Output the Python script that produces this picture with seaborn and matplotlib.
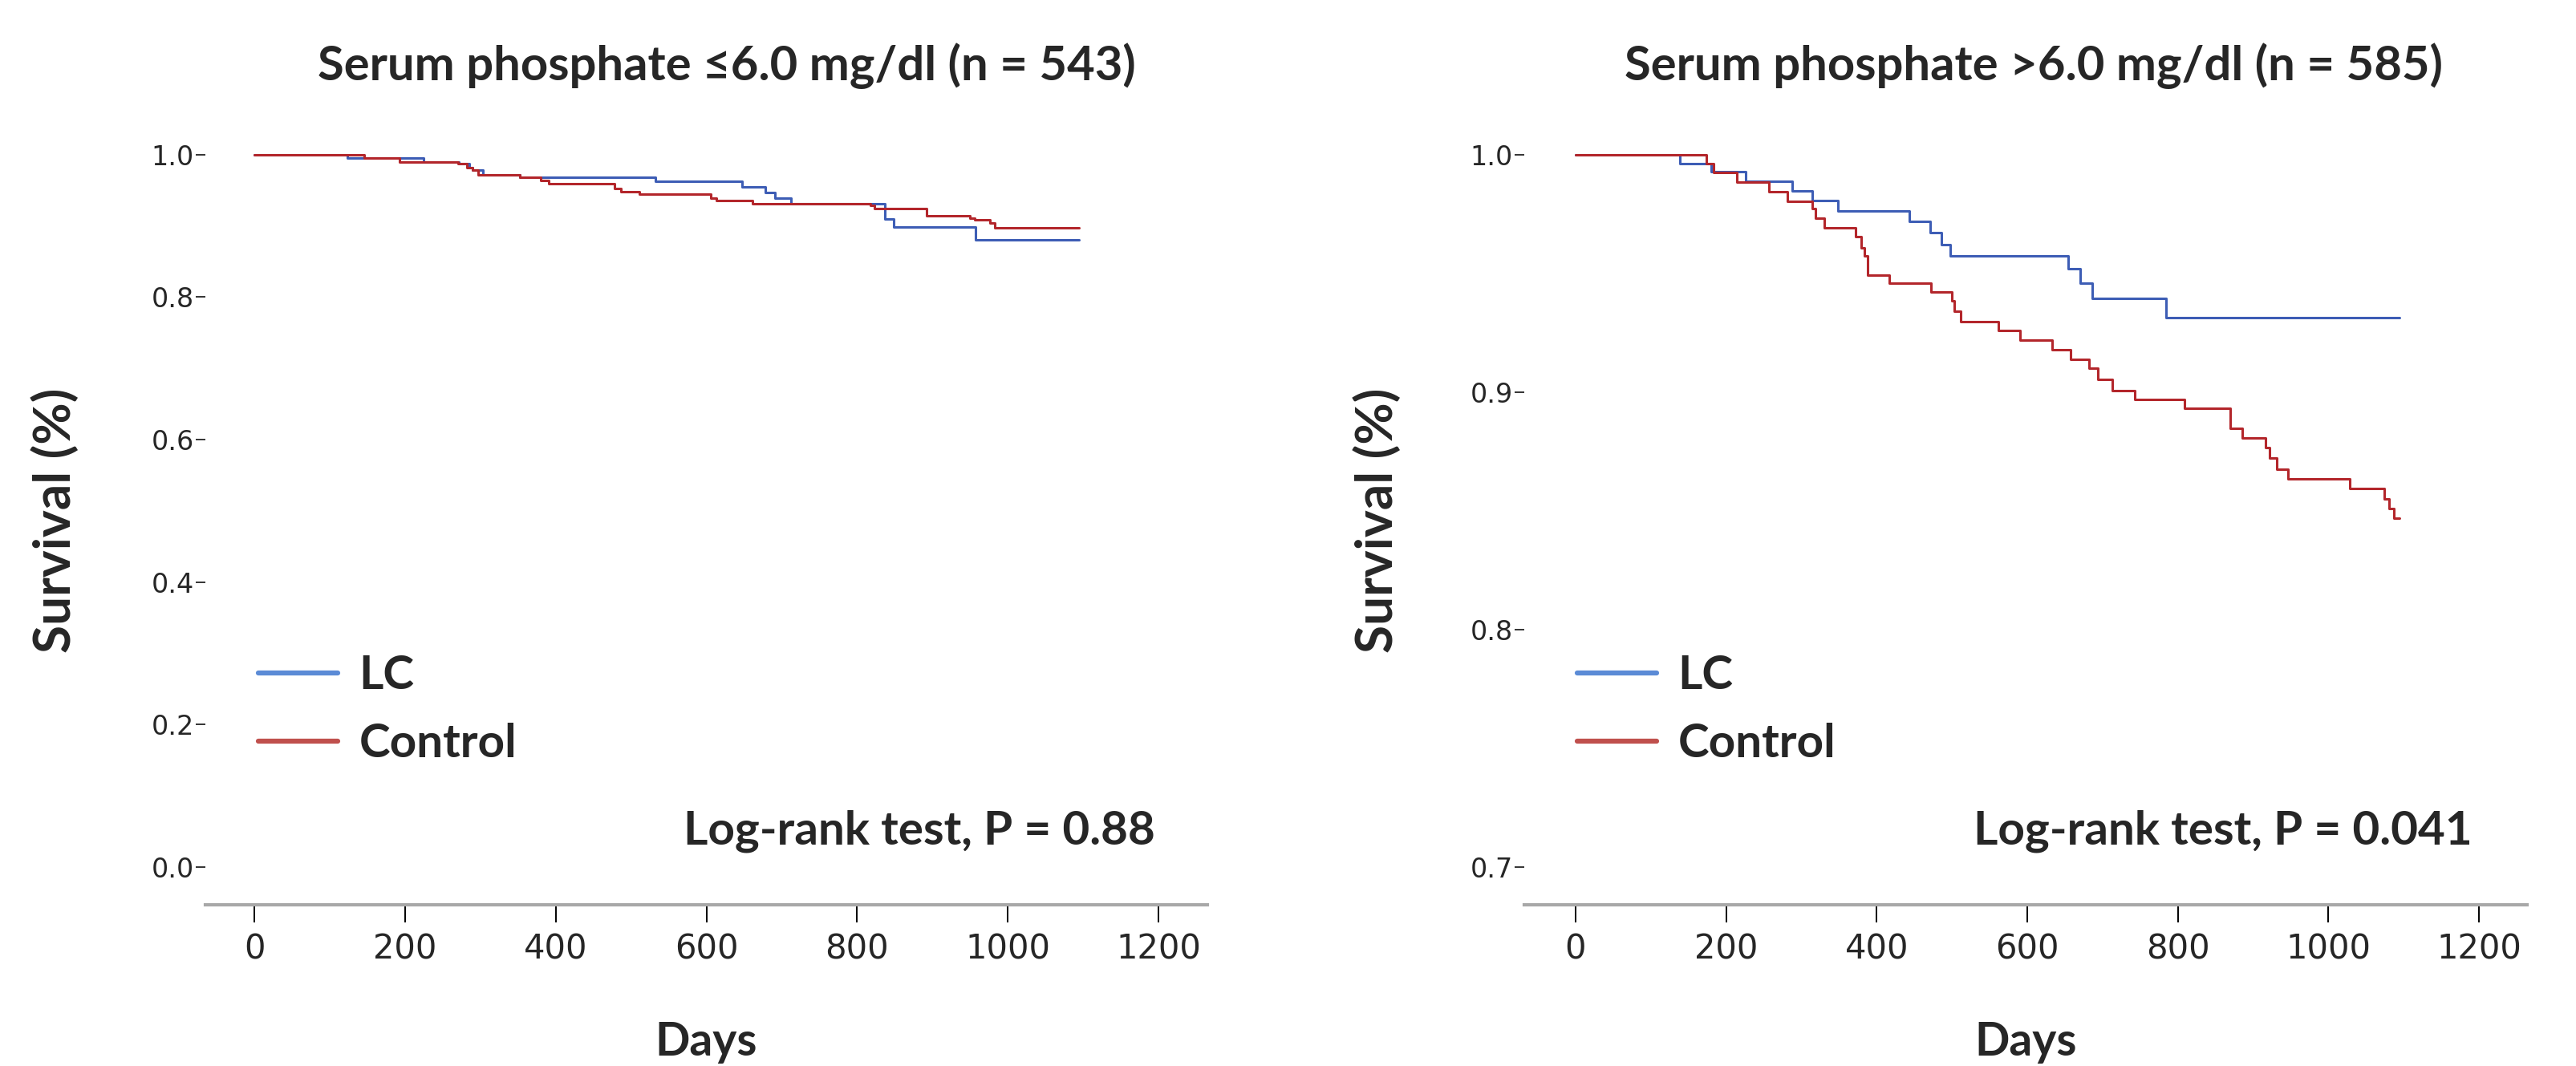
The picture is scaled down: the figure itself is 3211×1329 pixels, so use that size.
import matplotlib
matplotlib.use("Agg")
import matplotlib.pyplot as plt
from matplotlib.lines import Line2D
import seaborn as sns
import pandas as pd

# ---------------- data ----------------
groups = ["LC", "Control"]

# Panel 1: serum phosphate <= 6.0 mg/dl
p1_lc_days = [0, 123, 225, 272, 285, 290, 303, 352, 532, 647, 678, 691, 712, 837, 849, 957, 1095]
p1_lc_surv = [1.0, 0.9956, 0.990, 0.987, 0.9815, 0.978, 0.972, 0.9686, 0.963, 0.9546, 0.9465,
              0.939, 0.931, 0.910, 0.8987, 0.880, 0.880]
p1_ct_days = [0, 146, 193, 270, 282, 290, 297, 352, 380, 391, 478, 487, 511, 606, 613, 661,
              818, 823, 892, 950, 956, 976, 983, 1095]
p1_ct_surv = [1.0, 0.9956, 0.990, 0.987, 0.9815, 0.978, 0.972, 0.9686, 0.964, 0.959, 0.952,
              0.948, 0.9446, 0.939, 0.935, 0.931, 0.929, 0.924, 0.9137, 0.9102, 0.9079,
              0.9034, 0.8975, 0.8975]

# Panel 2: serum phosphate > 6.0 mg/dl
p2_lc_days = [0, 139, 180, 226, 288, 315, 349, 444, 471, 486, 498, 654, 670, 686, 785, 1095]
p2_lc_surv = [1.0, 0.9962, 0.9927, 0.9888, 0.9847, 0.9805, 0.9762, 0.972, 0.967, 0.962,
              0.9573, 0.952, 0.9457, 0.9393, 0.9313, 0.9313]
p2_ct_days = [0, 174, 184, 214, 257, 282, 315, 319, 331, 372, 380, 384, 388, 417, 472, 500,
              503, 512, 562, 591, 633, 658, 682, 694, 713, 743, 809, 870, 886, 917, 922, 931,
              946, 1029, 1074, 1081, 1087, 1095]
p2_ct_surv = [1.0, 0.9962, 0.9923, 0.9885, 0.9844, 0.9803, 0.9773, 0.9732, 0.969, 0.9653,
              0.9608, 0.9573, 0.9492, 0.9457, 0.9421, 0.9384, 0.934, 0.9296, 0.926, 0.922,
              0.9177, 0.9136, 0.910, 0.9053, 0.9006, 0.897, 0.893, 0.8847, 0.8805, 0.8764,
              0.8723, 0.8675, 0.8634, 0.8595, 0.8551, 0.851, 0.8469, 0.8469]

titles = ["Serum phosphate \u22646.0 mg/dl (n = 543)", "Serum phosphate >6.0 mg/dl (n = 585)"]
pvalue_texts = ["Log-rank test, P = 0.88", "Log-rank test, P = 0.041"]
x_ticks = [0, 200, 400, 600, 800, 1000, 1200]
y_ticks_1 = [0.0, 0.2, 0.4, 0.6, 0.8, 1.0]
y_ticks_2 = [0.7, 0.8, 0.9, 1.0]

# ---------------- style ----------------
sns.set_style("white")
plt.rcParams["font.family"] = ["Lato", "DejaVu Sans"]

curve_colors = {"LC": "#3d5db5", "Control": "#b3262b"}
legend_colors = {"LC": "#5b8bd6", "Control": "#c0504d"}

BOLD = dict(family=["Lato", "DejaVu Sans"], fontweight="bold")


def make_df(lc_d, lc_s, ct_d, ct_s):
    return pd.concat([
        pd.DataFrame({"Days": lc_d, "Survival": lc_s, "Group": "LC"}),
        pd.DataFrame({"Days": ct_d, "Survival": ct_s, "Group": "Control"}),
    ], ignore_index=True)


W, H = 3211, 1329
fig = plt.figure(figsize=(W / 100, H / 100), dpi=100)

panels = [
    dict(left=256, right=1505, df=make_df(p1_lc_days, p1_lc_surv, p1_ct_days, p1_ct_surv),
         xlim=(-65, 1265), ylim=(-0.053, 1.03), yticks=y_ticks_1,
         ylabels=["0.0", "0.2", "0.4", "0.6", "0.8", "1.0"],
         title_x=0.52, ylabel_x=68, p_right=1440),
    dict(left=1900, right=3150, df=make_df(p2_lc_days, p2_lc_surv, p2_ct_days, p2_ct_surv),
         xlim=(-68, 1264), ylim=(0.684, 1.009), yticks=y_ticks_2,
         ylabels=["0.7", "0.8", "0.9", "1.0"],
         title_x=0.508, ylabel_x=1716, p_right=3082),
]

top_px = 166
bottom_px = 1128

for i, p in enumerate(panels):
    aw = p["right"] - p["left"]
    ah = bottom_px - top_px
    ax = fig.add_axes([p["left"] / W, 1 - bottom_px / H, aw / W, ah / H])
    sns.lineplot(data=p["df"], x="Days", y="Survival", hue="Group", hue_order=groups,
                 palette=curve_colors, estimator=None, sort=False, drawstyle="steps-post",
                 linewidth=2.2, legend=False, ax=ax)
    ax.set_xlim(*p["xlim"])
    ax.set_ylim(*p["ylim"])
    ax.set_xticks(x_ticks)
    ax.set_xticklabels([str(t) for t in x_ticks],
                       fontdict=dict(family=["Liberation Sans Narrow", "DejaVu Sans"], size=30))
    ax.set_yticks(p["yticks"])
    ax.set_yticklabels(p["ylabels"], fontdict=dict(family="DejaVu Sans", size=24))
    ax.tick_params(axis="x", direction="out", length=16, width=1.4, color="black", pad=9,
                   bottom=True)
    ax.tick_params(axis="y", direction="out", length=9, width=1.4, color="#333333", pad=1,
                   left=True)
    for s in ["top", "right", "left"]:
        ax.spines[s].set_visible(False)
    ax.spines["bottom"].set_color("#a8a8a8")
    ax.spines["bottom"].set_linewidth(3)
    ax.set_xlabel("")
    ax.set_ylabel("")
    ax.set_facecolor("white")
    ax.grid(False)

    # title
    ax.text(p["title_x"], 1.0 + (top_px - 82) / ah, titles[i],
            transform=ax.transAxes, ha="center", va="center", fontsize=43, **BOLD)
    # x label
    ax.text(0.5, -(1300 - bottom_px) / ah, "Days",
            transform=ax.transAxes, ha="center", va="center", fontsize=41, **BOLD)
    # y label
    fig.text(p["ylabel_x"] / W, 1 - 649 / H, "Survival (%)", rotation=90,
             ha="center", va="center", fontsize=46, **BOLD)
    # p value
    fig.text(p["p_right"] / W, 1 - 1036 / H, pvalue_texts[i], ha="right", va="center",
             fontsize=42, **BOLD)

    # legend
    handles = [Line2D([0], [0], color=legend_colors[g], linewidth=4.5) for g in groups]
    ax.legend(handles, groups, loc="upper left",
              bbox_to_anchor=(66 / aw, 1 - (816 - top_px) / ah),
              frameon=False, handlelength=1.69, handletextpad=0.46, labelspacing=0.55,
              borderpad=0, borderaxespad=0,
              prop=dict(family=["Lato", "DejaVu Sans"], weight="bold", size=42))

fig.savefig("out.png", dpi=100, facecolor="white")
